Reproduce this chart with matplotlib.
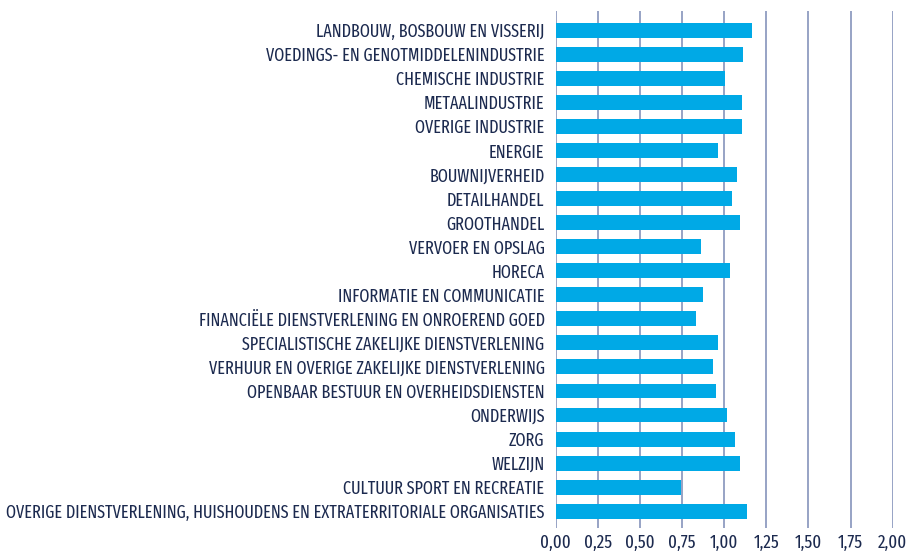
import matplotlib
matplotlib.use("Agg")
import matplotlib.pyplot as plt
from matplotlib.ticker import FuncFormatter

sectors = [
    "LANDBOUW, BOSBOUW EN VISSERIJ",
    "VOEDINGS- EN GENOTMIDDELENINDUSTRIE",
    "CHEMISCHE INDUSTRIE",
    "METAALINDUSTRIE",
    "OVERIGE INDUSTRIE",
    "ENERGIE",
    "BOUWNIJVERHEID",
    "DETAILHANDEL",
    "GROOTHANDEL",
    "VERVOER EN OPSLAG",
    "HORECA",
    "INFORMATIE EN COMMUNICATIE",
    "FINANCIËLE DIENSTVERLENING EN ONROEREND GOED",
    "SPECIALISTISCHE ZAKELIJKE DIENSTVERLENING",
    "VERHUUR EN OVERIGE ZAKELIJKE DIENSTVERLENING",
    "OPENBAAR BESTUUR EN OVERHEIDSDIENSTEN",
    "ONDERWIJS",
    "ZORG",
    "WELZIJN",
    "CULTUUR SPORT EN RECREATIE",
    "OVERIGE DIENSTVERLENING, HUISHOUDENS EN EXTRATERRITORIALE ORGANISATIES",
]
values = [1.165, 1.112, 1.005, 1.106, 1.106, 0.963, 1.076, 1.046, 1.094, 0.862,
          1.034, 0.874, 0.833, 0.963, 0.933, 0.951, 1.016, 1.064, 1.094, 0.744,
          1.136]
xticks = [0, 0.25, 0.5, 0.75, 1.0, 1.25, 1.5, 1.75, 2.0]

BAR = "#00a9e6"
NAVY = "#1c2a4f"
GRID = "#8f9cc0"

plt.rcParams["font.family"] = ["Fira Sans Extra Condensed", "DejaVu Sans"]

fig = plt.figure(figsize=(9.14, 5.51), dpi=100)
ax = fig.add_axes([0.608, 0.0417, 0.3687, 0.9383])

ypos = list(range(len(sectors)))
ax.barh(ypos, values, height=0.62, color=BAR, zorder=3)

ax.set_xlim(0, 2.0)
ax.set_ylim(20.7, -0.8)
ax.set_xticks(xticks)
ax.xaxis.set_major_formatter(FuncFormatter(lambda v, _: f"{v:.2f}".replace(".", ",")))
ax.set_yticks(ypos)
ax.set_yticklabels(sectors)

ax.grid(axis="x", color=GRID, linewidth=1.3, zorder=0)
for s in ax.spines.values():
    s.set_visible(False)
ax.tick_params(axis="both", length=0, colors=NAVY)
ax.tick_params(axis="y", pad=8, labelsize=14)
ax.tick_params(axis="x", pad=4.5, labelsize=14)

# scale label sizes so the texts span the same widths as in the original
fig.canvas.draw()
r = fig.canvas.get_renderer()
w_y = max(t.get_window_extent(r).width for t in ax.get_yticklabels())
w_x = ax.get_xticklabels()[1].get_window_extent(r).width
ax.tick_params(axis="y", labelsize=14 * 536 / w_y)
ax.tick_params(axis="x", labelsize=14 * 28 / w_x)

fig.savefig("out.png", dpi=100)
